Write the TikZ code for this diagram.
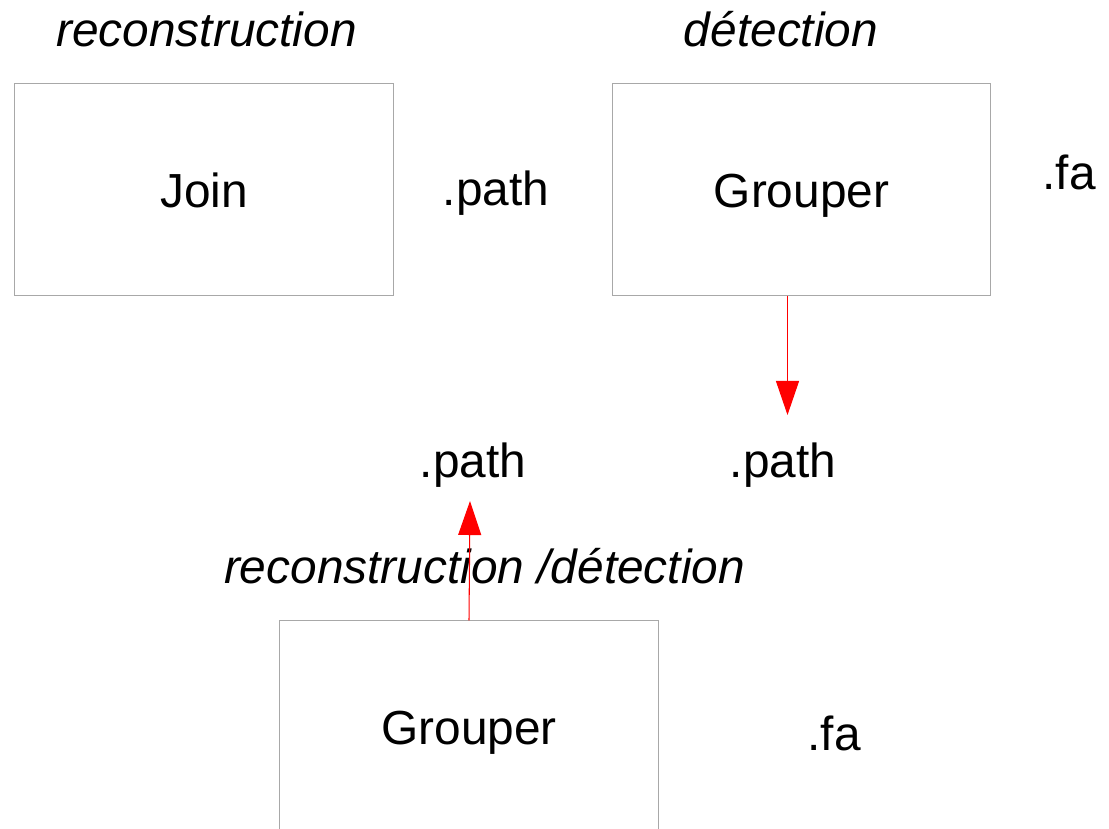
\documentclass[tikz,border=0pt]{standalone}
\usepackage{fontspec}
\setmainfont{Liberation Sans}
\usetikzlibrary{arrows.meta}

\definecolor{boxgray}{RGB}{168,168,168}

\tikzset{
  stage/.style={draw=boxgray,line width=0.7pt,minimum width=9.45cm,minimum height=5.275cm,
    inner sep=0pt,text height=0.875cm,text depth=0pt,font=\fontsize{34}{41}\selectfont},
  lbl/.style={inner sep=0pt,anchor=base,font=\fontsize{34}{41}\selectfont},
  role/.style={lbl,font=\fontsize{34}{41}\selectfont\itshape},
  flow/.style={red,line width=0.75pt,-{Triangle[length=0.85cm,width=0.575cm]}}
}

\begin{document}
\begin{tikzpicture}[x=0.025cm,y=-0.025cm]
  % page frame (pixel grid, y downwards)
  \clip (0,0) rectangle (1109,828);
  \useasboundingbox (0,0) rectangle (1109,828);
  % helper grid: comment for final drawing
  % \draw[help lines,step=50] (0,0) grid (1109,828);

  % upper row (label nodes sit on their baseline)
  \node[role] (recA) at (206.5,47) {reconstruction};
  \node[role] (detA) at (781,47) {détection};
  \node[stage] (join) at (204,189.5) {Join};
  \node[lbl] (pathA) at (496,205) {.path};
  \node[stage] (grpA) at (801.5,189.5) {Grouper};
  \node[lbl] (faA) at (1069,189) {.fa};

  % middle row
  \node[lbl] (pathB) at (473,477) {.path};
  \node[lbl] (pathC) at (783,477) {.path};

  % lower row
  \node[role] (recdet) at (484.5,583) {reconstruction /détection};
  \node[stage] (grpB) at (469,726.5) {Grouper};
  \node[lbl] (faB) at (834,750) {.fa};

  % arrows
  \coordinate (tipA) at (787.5,415);
  \coordinate (tipB) at (470,501);
  \draw[flow] (tipA |- grpA.south) -- (tipA);
  \draw[flow] (grpB.north) -- (tipB);
\end{tikzpicture}
\end{document}
